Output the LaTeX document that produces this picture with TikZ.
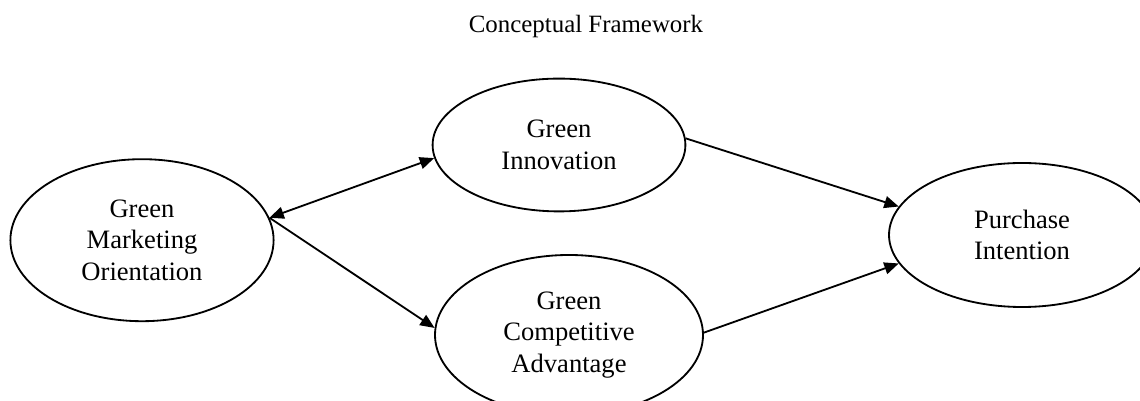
\documentclass[tikz,border=0pt]{standalone}
\usepackage{fontspec}
\setmainfont{Liberation Serif}
\usepackage{tikz}
\usetikzlibrary{arrows.meta,positioning,shapes.geometric}
\tikzset{
  construct/.style={ellipse,draw,line width=1.3pt,inner sep=0pt,align=center,
    font=\fontsize{18.9}{22.5}\selectfont},
  link/.style={line width=1.3pt,-{Triangle[length=3.6mm,width=3mm]}},
  twoway/.style={line width=1.3pt,{Triangle[length=3.6mm,width=3mm]}-{Triangle[length=3.6mm,width=3mm]}},
  heading/.style={font=\fontsize{17.7}{21}\selectfont}
}

\begin{document}
\begin{tikzpicture}
  \clip (0,0) rectangle (28.5,10.025);
  \node[heading] (title) at (14.65,9.35) {Conceptual Framework};
  \node[construct,minimum width=6.58cm,minimum height=4.05cm] (gmo) at (3.55,4.02)
    {Green\\Marketing\\Orientation};
  \node[construct,minimum width=6.32cm,minimum height=3.32cm] (gi) at (13.975,6.4)
    {Green\\Innovation};
  \node[construct,minimum width=6.7cm,minimum height=4.0cm] (gca) at (14.225,1.65)
    {Green\\Competitive\\Advantage};
  \node[construct,minimum width=6.65cm,minimum height=3.6cm] (pi) at (25.55,4.15)
    {Purchase\\Intention};

  \draw[twoway] (gmo.10) -- (gi.186);
  \draw[link] (gmo.10) -- (gca.177);
  \draw[link] (gi.3) -- (pi.167);
  \draw[link] (gca.1) -- (pi.193);
\end{tikzpicture}
\end{document}
